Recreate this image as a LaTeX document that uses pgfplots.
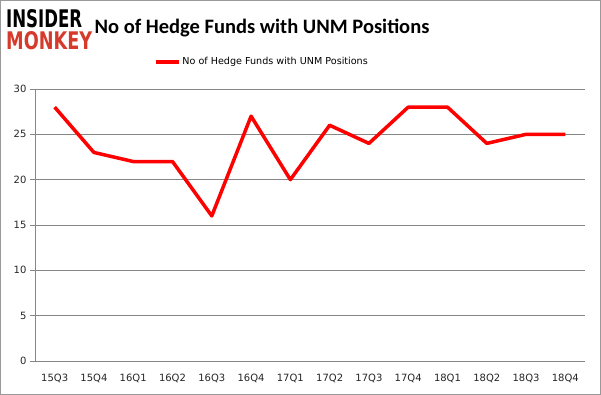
\documentclass[border=0pt]{standalone}
\usepackage{pgfplots}
\pgfplotsset{compat=1.18}
\usepackage{fontspec}
\setmainfont{Carlito}
\newfontfamily\tickfont{DejaVu Sans}
\newfontfamily\logofont{DejaVu Sans Bold}
\definecolor{gridgray}{HTML}{868686}
\definecolor{monkeyred}{HTML}{D63A2A}
\begin{document}
\begin{tikzpicture}[x=1pt,y=1pt]
\fill[white] (0,0) rectangle (601,395);
\draw[gray!80, line width=1pt] (0.5,0.5) rectangle (600.5,394.5);
\node[anchor=north west, inner sep=0pt] at (6,386) {\resizebox{76pt}{18pt}{\logofont INSIDER}};
\node[anchor=north west, inner sep=0pt, text=monkeyred] at (6,364) {\resizebox{86pt}{18pt}{\logofont MONKEY}};
\node[font=\bfseries\fontsize{20.5}{24}\selectfont, inner sep=0pt] at (262,367) {No of Hedge Funds with UNM Positions};
\begin{axis}[
  at={(35pt,34pt)}, anchor=south west,
  scale only axis, width=550pt, height=272pt,
  xmin=-0.5, xmax=13.5, ymin=0, ymax=30,
  axis x line*=bottom, axis y line*=left,
  axis line style={gridgray, line width=0.8pt},
  xtick={0,...,13},
  xticklabels={15Q3,15Q4,16Q1,16Q2,16Q3,16Q4,17Q1,17Q2,17Q3,17Q4,18Q1,18Q2,18Q3,18Q4},
  major x tick style={draw=none},
  extra x ticks={-0.5,0.5,...,13.5},
  extra x tick labels={},
  extra x tick style={tick style={draw=gridgray, line width=0.8pt}, major tick length=5pt, tick align=outside, grid=none},
  ytick={0,5,...,30},
  ymajorgrids,
  grid style={gridgray, line width=0.8pt},
  y tick style={draw=gridgray, line width=0.8pt},
  tick align=outside, major tick length=5pt,
  tick label style={font=\tickfont\fontsize{10}{12}\selectfont, text=black!85},
  xticklabel style={yshift=-5pt},
  /pgf/number format/assume math mode=true,
  legend style={at={(227pt,299pt)}, anchor=center, draw=none, fill=none, font=\tickfont\fontsize{9.6}{11}\selectfont, legend columns=1, inner sep=0pt},
  legend image code/.code={\draw[red, line width=3.5pt] (0cm,0cm) -- (0.8cm,0cm);},
  clip=false,
]
\addplot[red, line width=3.5pt, line join=round] coordinates {
(0,28) (1,23) (2,22) (3,22) (4,16) (5,27) (6,20) (7,26) (8,24) (9,28) (10,28) (11,24) (12,25) (13,25)
};
\addlegendentry{No of Hedge Funds with UNM Positions}
\end{axis}
\end{tikzpicture}
\end{document}
